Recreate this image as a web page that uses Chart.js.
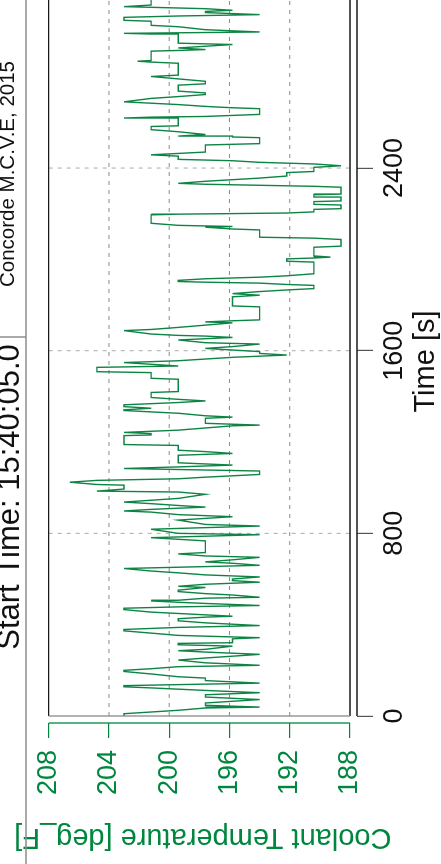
<!DOCTYPE html>
<html><head><meta charset="utf-8">
<script src="https://cdn.jsdelivr.net/npm/chart.js@4.4.0/dist/chart.umd.min.js"></script>
<style>
html,body{margin:0;padding:0;width:441px;height:864px;overflow:hidden;background:#fff;}
#wrap{position:absolute;left:0;top:864px;width:864px;height:441px;transform-origin:0 0;transform:rotate(-90deg);}
canvas{display:block;}
</style></head><body>
<div id="wrap"><canvas id="c" width="864" height="441"></canvas></div>
<script>
const timeSec = [0,10,25,35,39,47,57,72,83,93,102,112,123,128,133,144,155,166,172,184,195,200,207,216,222,233,245,254,270,280,286,292,306,312,318,321,338,343,353,363,373,379,388,396,408,417,426,433,437,443,449,455,466,472,478,484,493,498,504,507,516,520,530,536,545,551,563,568,577,586,593,600,609,618,627,
635,646,660,669,675,684,695,701,710,716,767,774,781,794,800,818,832,839,858,873,882,893,898,905,915,922,930,937,953,971,981,985,994,1011,1014,1024,1032,1039,1046,1058,1073,1084,1091,1099,1109,1142,1150,1158,1164,1185,1189,1228,1231,1237,1242,
1252,1271,1274,1282,1304,1309,1315,1326,1338,1341,1348,1355,1363,1373,1380,1387,1395,1417,1421,1475,1479,1504,1508,1527,1533,1548,1556,1571,1581,1588,1596,1603,1610,1618,1629,1635,1647,1658,1664,1667,1673,1688,1693,1702,1712,1722,1726,1731,1735,1792,1796,1836,1843,1850,1859,1866,1872,1880,
1886,1890,1896,1900,1903,1908,1915,1922,1928,1937,1988,1992,2002,2006,2010,2015,2053,2058,2087,2093,2097,2129,2133,2141,2144,2149,2158,2195,2198,2203,2208,2219,2222,2238,2241,2253,2256,2270,2273,2283,2286,2316,2320,2329,2333,2342,2356,2365,2380,2385,2403,2410,2418,2425,2432,2438,2452,2458,2464,2470,
2501,2507,2533,2536,2540,2547,2559,2568,2582,2585,2617,2619,2623,2626,2635,2660,2664,2670,2678,2690,2705,2713,2722,2729,2737,2763,2769,2780,2801,2807,2859,2864,2868,2871,2912,2915,2919,2926,2941,2947,2984,2987,2990,2996,3006,3019,3025,3043,3047,3060,3066,3072,3081,3086,3091,3098,3107,3114,3140];

const coolantF = [203.0,203.0,199.4,197.6,194.0,197.6,197.6,194.0,197.6,197.6,194.0,197.6,201.2,203.0,203.0,194.0,197.6,197.6,199.4,201.2,203.0,203.0,201.2,199.4,194.0,197.6,199.4,197.6,194.0,197.6,199.4,197.6,195.8,199.4,199.4,195.8,195.8,194.0,199.4,201.2,203.0,203.0,199.4,194.0,197.6,199.4,199.4,197.6,195.8,197.6,199.4,201.2,203.0,203.0,199.4,194.0,197.6,199.4,201.2,199.4,197.6,194.0,195.8,197.6,199.4,199.4,197.6,199.4,197.6,194.0,195.8,195.8,194.0,197.6,199.4,
201.2,203.0,194.0,195.8,197.6,195.8,194.0,197.6,199.4,197.6,197.6,199.4,201.2,194.0,199.4,201.2,194.0,197.6,199.4,195.8,199.4,201.2,203.0,201.2,197.6,199.4,201.2,203.0,199.4,197.6,199.4,204.8,203.0,203.0,204.8,206.6,204.8,199.4,197.6,194.0,194.0,203.0,199.4,195.8,199.4,199.4,195.8,197.6,199.4,199.4,203.0,203.0,201.2,201.2,203.0,
199.4,195.8,194.0,197.6,197.6,195.8,197.6,199.4,203.0,203.0,201.2,203.0,203.0,199.4,197.6,199.4,201.2,201.2,199.4,199.4,201.2,201.2,204.8,204.8,199.4,203.0,199.4,195.8,192.2,194.0,194.0,195.8,197.6,195.8,194.0,197.6,199.4,195.8,197.6,199.4,201.2,203.0,201.2,199.4,197.6,195.8,197.6,195.8,194.0,194.0,195.8,195.8,194.0,195.8,194.0,192.2,190.4,190.4,
190.4,192.2,194.0,197.6,199.4,199.4,197.6,194.0,192.2,190.4,190.4,192.2,192.2,190.4,189.3,190.4,190.4,188.6,188.6,190.4,194.0,194.0,195.8,197.6,195.8,199.4,201.2,201.2,199.4,192.2,190.4,190.4,188.6,188.6,190.4,190.4,188.6,188.6,190.4,190.4,188.6,188.6,190.4,197.6,199.4,197.6,194.0,192.2,192.2,190.4,190.4,188.6,190.4,194.0,195.8,199.4,199.4,201.2,199.4,197.6,
197.6,194.0,194.0,195.8,199.4,197.6,199.4,201.2,201.2,199.4,199.4,203.0,201.2,197.6,194.0,194.0,195.8,197.6,199.4,203.0,201.2,199.4,197.6,197.6,199.4,199.4,197.6,197.6,201.2,199.4,199.4,201.2,202.1,201.2,201.2,199.4,197.6,199.4,195.8,199.4,199.4,201.2,203.0,194.0,197.6,199.4,201.2,201.2,203.0,203.0,199.4,194.0,197.6,197.6,195.8,197.6,203.0,201.2,201.2];

const timeTicks = [0, 800, 1600, 2400];
const tempTicks = [208, 204, 200, 196, 192, 188];
const headerLeft = 'Start Time: 15:40:05.0';
const headerRight = 'Concorde M.C.V.E, 2015';
const xTitle = 'Time [s]';
const yTitle = 'Coolant Temperature [deg_F]';

const FONT = "'Liberation Sans', Arial, Helvetica, sans-serif";
const GREEN = '#00873f';
const LINE = '#0d8444';

const points = timeSec.map((t, i) => ({x: t, y: coolantF[i]}));

const decor = {
  id: 'decor',
  beforeDatasetsDraw(chart) {
    const {ctx, scales: {x, y}, chartArea} = chart;
    const x0 = x.getPixelForValue(timeTicks[0]);
    const xR = chartArea.right;
    const yT = y.getPixelForValue(tempTicks[0]);
    const yB = y.getPixelForValue(tempTicks[tempTicks.length - 1]);
    ctx.save();
    ctx.lineWidth = 1;
    ctx.setLineDash([4, 5]);
    ctx.strokeStyle = '#8a8a8a';
    tempTicks.slice(1, -1).forEach(v => {
      const p = y.getPixelForValue(v);
      ctx.beginPath(); ctx.moveTo(x0, p); ctx.lineTo(xR, p); ctx.stroke();
    });
    ctx.strokeStyle = '#aaaaaa';
    timeTicks.slice(1).forEach(v => {
      const p = x.getPixelForValue(v);
      ctx.beginPath(); ctx.moveTo(p, yT); ctx.lineTo(p, yB); ctx.stroke();
    });
    ctx.restore();
  },
  afterDraw(chart) {
    const {ctx, scales: {x, y}, chartArea} = chart;
    const x0 = x.getPixelForValue(timeTicks[0]);
    const xR = chart.width;
    const yT = y.getPixelForValue(tempTicks[0]);
    const yB = y.getPixelForValue(tempTicks[tempTicks.length - 1]);
    ctx.save();
    ctx.setLineDash([]);
    ctx.lineWidth = 1.3;
    ctx.strokeStyle = '#1a1a1a';
    ctx.beginPath(); ctx.moveTo(x0, yT); ctx.lineTo(xR, yT); ctx.stroke();
    ctx.beginPath(); ctx.moveTo(x0, yB); ctx.lineTo(xR, yB); ctx.stroke();
    ctx.strokeStyle = '#8a8a8a';
    ctx.beginPath(); ctx.moveTo(x0, yT); ctx.lineTo(x0, yB); ctx.stroke();
    ctx.strokeStyle = '#1a1a1a';
    ctx.beginPath(); ctx.moveTo(x0, chartArea.bottom); ctx.lineTo(xR, chartArea.bottom); ctx.stroke();
    ctx.strokeStyle = GREEN;
    ctx.beginPath(); ctx.moveTo(chartArea.left, yT); ctx.lineTo(chartArea.left, yB); ctx.stroke();
    ctx.strokeStyle = '#8c8c8c';
    ctx.lineWidth = 1.5;
    ctx.beginPath(); ctx.moveTo(0, 26); ctx.lineTo(chart.width, 26); ctx.stroke();
    ctx.beginPath(); ctx.moveTo(527, 0); ctx.lineTo(527, 26); ctx.stroke();
    ctx.fillStyle = '#111';
    ctx.textAlign = 'center';
    ctx.textBaseline = 'alphabetic';
    ctx.font = '31px ' + FONT;
    ctx.fillText(headerLeft, 367, 18.5);
    ctx.font = '20.5px ' + FONT;
    ctx.fillText(headerRight, 690, 14);
    ctx.restore();
  }
};

new Chart(document.getElementById('c').getContext('2d'), {
  type: 'line',
  data: {datasets: [{data: points, borderColor: LINE, borderWidth: 1.4, pointRadius: 0, tension: 0, fill: false}]},
  options: {
    responsive: false, animation: false, devicePixelRatio: 1,
    layout: {padding: {top: 48.7, left: 0, right: 0, bottom: 0}},
    plugins: {legend: {display: false}, tooltip: {enabled: false}},
    scales: {
      x: {
        type: 'linear', min: -30.7, max: 3136, position: 'bottom',
        afterBuildTicks: s => { s.ticks = timeTicks.map(v => ({value: v})); },
        afterFit: s => { s.height = 84; },
        grid: {drawOnChartArea: false, drawTicks: true, tickLength: 16, color: '#555', lineWidth: 1.2},
        border: {display: false},
        ticks: {color: '#111', font: {family: FONT, size: 27}, padding: 5, maxRotation: 0, autoSkip: false, callback: v => String(v)},
        title: {display: true, text: xTitle, color: '#111', font: {family: FONT, size: 29, lineHeight: 1}, padding: {top: 0, bottom: 1}}
      },
      y: {
        type: 'linear', min: 187.535, max: 208, position: 'left',
        afterBuildTicks: s => { s.ticks = tempTicks.map(v => ({value: v})); },
        afterFit: s => { s.width = 141; },
        grid: {drawOnChartArea: false, drawTicks: true, tickLength: 15, color: GREEN, lineWidth: 1.2},
        border: {display: false},
        ticks: {color: GREEN, font: {family: FONT, size: 27}, padding: 12, autoSkip: false, callback: v => String(v)},
        title: {display: true, text: yTitle, color: GREEN, font: {family: FONT, size: 29, lineHeight: 1.2}, padding: {top: 10, bottom: 0}}
      }
    }
  },
  plugins: [decor]
});
</script>
</body></html>
